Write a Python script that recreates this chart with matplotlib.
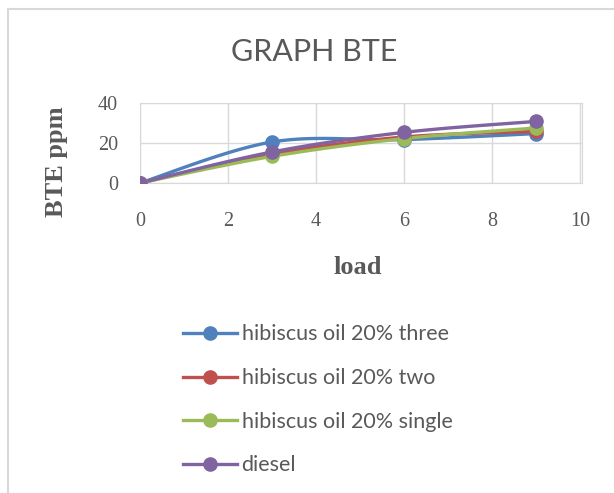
import numpy as np
import matplotlib
matplotlib.use("Agg")
import matplotlib.pyplot as plt
from matplotlib.lines import Line2D

load = [0, 3, 6, 9]
three = [0, 20.5, 21.7, 24.7]
two = [0, 14.5, 23.0, 25.8]
single = [0, 13.3, 22.2, 27.5]
diesel = [0, 15.5, 25.3, 30.8]

labels = ["hibiscus oil 20% three", "hibiscus oil 20% two",
          "hibiscus oil 20% single", "diesel"]
colors = ["#4F81BD", "#C0504D", "#9BBB59", "#8064A2"]
x_ticks = [0, 2, 4, 6, 8, 10]
y_ticks = [0, 20, 40]


def smooth(x, y, n=40):
    # Excel-style smoothed line: cubic Bezier with Catmull-Rom control points
    x = np.asarray(x, float)
    y = np.asarray(y, float)
    px = np.concatenate([[x[0]], x, [x[-1]]])
    py = np.concatenate([[y[0]], y, [y[-1]]])
    xs, ys = [], []
    t = np.linspace(0, 1, n)
    for i in range(1, len(px) - 2):
        p0 = np.array([px[i], py[i]])
        p3 = np.array([px[i + 1], py[i + 1]])
        p1 = p0 + (np.array([px[i + 1], py[i + 1]]) - np.array([px[i - 1], py[i - 1]])) / 6
        p2 = p3 - (np.array([px[i + 2], py[i + 2]]) - np.array([px[i], py[i]])) / 6
        b = ((1 - t) ** 3)[:, None] * p0 + (3 * (1 - t) ** 2 * t)[:, None] * p1 \
            + (3 * (1 - t) * t ** 2)[:, None] * p2 + (t ** 3)[:, None] * p3
        xs.extend(b[:, 0])
        ys.extend(b[:, 1])
    return xs, ys


fig = plt.figure(figsize=(6.14, 4.93), dpi=100)
W, H = 614, 493
ax = fig.add_axes([140 / W, 1 - 183 / H, 442 / W, 80 / H])

for vals, c in zip([three, two, single, diesel], colors):
    sx, sy = smooth(load, vals)
    ax.plot(sx, sy, color=c, lw=2.4, zorder=3, solid_capstyle="round")
    ax.plot(load, vals, "o", color=c, ms=9.5, zorder=4)

ax.set_xlim(0, 10.05)
ax.set_ylim(0, 40)
ax.set_xticks(x_ticks)
ax.set_yticks(y_ticks)
ax.grid(True, color="#D9D9D9", lw=1)
ax.set_axisbelow(True)
for s in ax.spines.values():
    s.set_color("#D9D9D9")
ax.tick_params(axis="x", length=0, pad=21, colors="#595959", labelsize=14.5)
ax.tick_params(axis="y", length=0, pad=16, colors="#595959", labelsize=14.5)
for lab in ax.get_xticklabels() + ax.get_yticklabels():
    lab.set_family("Liberation Serif")

fig.text(314 / W, 1 - 52 / H, "GRAPH BTE", ha="center", va="center",
         fontsize=22, color="#595959", family="Lato")
fig.text(57 / W, 1 - 162 / H, "BTE ppm", ha="center", va="center", rotation=90,
         fontsize=19, fontweight="bold", color="#595959", family="Liberation Serif")
fig.text(358 / W, 1 - 267 / H, "load", ha="center", va="center",
         fontsize=19, fontweight="bold", color="#595959", family="Liberation Serif")

handles = [Line2D([], [], color=c, lw=2.4, marker="o", ms=9.5) for c in colors]
fig.legend(handles, labels, loc="upper left", bbox_to_anchor=(164 / W, 1 - 305 / H),
           frameon=False, handlelength=2.5, handletextpad=0.2, labelspacing=1.1,
           prop={"family": "Lato", "size": 15.5}, labelcolor="#595959")

fig.add_artist(Line2D([8 / W, 8 / W], [0, 1 - 9 / H], color="#D9D9D9", lw=1.5))
fig.add_artist(Line2D([8 / W, 1], [1 - 9 / H, 1 - 9 / H], color="#D9D9D9", lw=1.5))

fig.savefig("out.png", dpi=100)
